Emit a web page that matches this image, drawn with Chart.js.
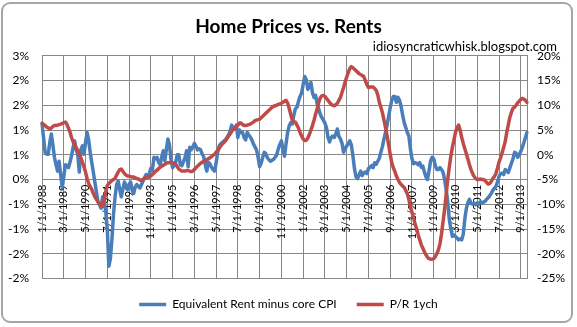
<!DOCTYPE html>
<html>
<head>
<meta charset="utf-8">
<title>Home Prices vs. Rents</title>
<script src="https://cdn.jsdelivr.net/npm/chart.js@4.4.1/dist/chart.umd.min.js"></script>
<style>
  html, body { margin: 0; padding: 0; background: #fff; }
  #wrap { position: relative; width: 577px; height: 327px; }
  /* cadre arrondi façon Excel */
  #frame { position: absolute; left: 1px; top: 2px; width: 568px; height: 317px;
           border: 2px solid #a6a6a6; border-radius: 9px; pointer-events: none; }
</style>
</head>
<body>
<div id="wrap">
  <canvas id="chart"></canvas>
  <div id="frame"></div>
</div>
<script>
/* données mensuelles : janvier 1988 -> janvier 2014 */
const startYear = 1988;

// Equivalent Rent minus core CPI (axe gauche, en %)
const rentMinusCpi = [
  1.12, 0.85, 0.55, 0.51, 0.51, 0.75, 0.92, 0.70, 0.45, 0.30, 0.17, 0.37,
  0.10, -0.16, 0.05, 0.30, 0.28, 0.24, 0.35, 0.48, 0.65, 0.78, 0.60, 0.51,
  0.15, 0.60, 0.68, 0.51, 0.75, 0.95, 0.80, 0.55, 0.35, 0.15, -0.05, -0.25,
  -0.45, -0.51, -0.58, -0.35, -0.45, -0.65, -1.00, -1.75, -1.60, -1.20, -0.70, -0.35,
  -0.10, -0.03, -0.20, -0.35, -0.20, -0.05, -0.12, -0.20, -0.10, -0.05, -0.22, -0.28,
  -0.15, -0.10, -0.14, -0.17, -0.10, -0.03, 0.04, 0.10, 0.04, 0.12, 0.22, 0.18,
  0.45, 0.42, 0.45, 0.35, 0.30, 0.45, 0.58, 0.38, 0.60, 0.82, 0.70, 0.40,
  0.24, 0.28, 0.35, 0.50, 0.50, 0.30, 0.28, 0.36, 0.44, 0.58, 0.26, 0.65,
  0.60, 0.66, 0.73, 0.68, 0.60, 0.62, 0.60, 0.52, 0.46, 0.30, 0.17, 0.35,
  0.32, 0.25, 0.20, 0.17, 0.33, 0.55, 0.68, 0.72, 0.75, 0.78, 0.80, 0.85,
  0.90, 0.97, 1.10, 1.02, 1.02, 1.10, 0.85, 1.00, 0.95, 0.95, 0.85, 0.80,
  0.95, 0.90, 0.86, 0.80, 0.72, 0.66, 0.60, 0.45, 0.26, 0.33, 0.45, 0.55,
  0.52, 0.44, 0.40, 0.37, 0.39, 0.41, 0.45, 0.50, 0.62, 0.71, 0.78, 0.62,
  0.47, 0.72, 0.95, 1.08, 1.15, 1.12, 1.30, 1.43, 1.46, 1.58, 1.68, 1.75,
  1.92, 2.08, 2.02, 1.82, 1.90, 1.96, 1.75, 1.66, 1.70, 1.53, 1.43, 1.32,
  1.25, 1.20, 1.14, 1.05, 0.85, 0.76, 0.85, 0.88, 0.85, 0.92, 1.02, 0.87,
  0.82, 0.73, 0.55, 0.62, 0.68, 0.72, 0.78, 0.70, 0.48, 0.22, 0.05, 0.02,
  0.10, 0.17, 0.08, 0.13, 0.15, 0.12, 0.22, 0.25, 0.28, 0.24, 0.34, 0.31,
  0.37, 0.43, 0.55, 0.67, 0.82, 0.95, 1.10, 1.28, 1.45, 1.60, 1.68, 1.68,
  1.56, 1.66, 1.60, 1.48, 1.30, 1.15, 1.05, 0.95, 0.88, 0.62, 0.42, 0.32,
  0.34, 0.33, 0.30, 0.34, 0.25, 0.27, 0.15, 0.05, 0.00, 0.18, 0.38, 0.45,
  0.42, 0.28, 0.20, 0.20, 0.24, 0.20, 0.15, 0.00, -0.20, -0.45, -0.80, -1.00,
  -1.15, -1.12, -1.15, -1.18, -1.22, -1.20, -1.22, -1.10, -0.80, -0.58, -0.47, -0.40,
  -0.48, -0.50, -0.48, -0.51, -0.47, -0.50, -0.45, -0.47, -0.46, -0.44, -0.40, -0.37,
  -0.33, -0.28, -0.22, -0.18, -0.14, -0.05, 0.06, 0.12, 0.13, 0.10, 0.20, 0.17,
  0.14, 0.24, 0.33, 0.42, 0.55, 0.53, 0.45, 0.50, 0.57, 0.65, 0.75, 0.85,
  0.95
];

// P/R 1ych (axe droit, en %)
const priceRent = [
  6.4, 6.1, 5.9, 5.6, 5.4, 5.2, 5.4, 5.7, 5.9, 5.9, 6.0, 6.1,
  6.2, 6.3, 6.5, 6.6, 6.2, 5.4, 4.6, 3.5, 2.6, 2.0, 1.4, 0.8,
  0.1, -0.6, -1.5, -2.4, -3.5, -4.8, -5.8, -6.4, -7.0, -7.8, -8.5, -9.0,
  -9.5, -9.8, -10.2, -10.4, -9.2, -7.5, -6.2, -5.8, -5.5, -5.2, -5.0, -4.8,
  -4.1, -3.5, -3.0, -2.9, -3.3, -3.8, -4.1, -4.3, -4.3, -4.4, -4.5, -4.5,
  -4.7, -4.8, -4.9, -5.1, -5.2, -5.0, -4.8, -4.6, -4.5, -4.5, -4.3, -4.0,
  -3.7, -3.4, -3.1, -2.8, -2.5, -2.3, -2.1, -1.9, -1.7, -1.6, -1.6, -1.5,
  -1.6, -1.7, -1.9, -2.4, -2.9, -3.1, -3.3, -3.3, -3.3, -3.2, -3.2, -3.3,
  -3.4, -3.3, -3.0, -2.6, -2.3, -2.0, -1.7, -1.5, -1.3, -1.2, -1.0, -0.8,
  -0.6, -0.4, -0.1, 0.1, 0.5, 0.9, 1.3, 1.8, 2.2, 2.5, 2.8, 3.3,
  3.8, 4.2, 4.7, 5.1, 5.4, 5.7, 6.0, 6.4, 6.4, 6.1, 5.9, 5.9,
  6.0, 6.1, 6.2, 6.4, 6.6, 6.9, 7.0, 7.1, 7.2, 7.5, 7.8, 8.1,
  8.4, 8.7, 9.0, 9.3, 9.6, 9.8, 9.9, 10.0, 10.2, 10.3, 10.4, 10.6,
  10.8, 11.0, 10.5, 9.4, 8.2, 7.0, 6.7, 6.6, 6.0, 5.4, 4.5, 3.8,
  3.2, 2.9, 2.9, 3.4, 4.1, 5.0, 5.9, 7.0, 8.2, 9.3, 10.5, 11.5,
  11.9, 12.0, 11.8, 11.4, 11.0, 10.6, 10.2, 10.0, 9.9, 10.1, 10.4, 11.0,
  11.6, 12.6, 13.6, 14.7, 15.7, 16.6, 17.4, 17.8, 17.6, 17.3, 17.0, 16.7,
  16.4, 16.2, 16.0, 15.8, 15.0, 14.2, 13.6, 13.7, 13.7, 13.7, 13.4, 13.0,
  12.1, 10.6, 9.6, 8.5, 7.0, 5.5, 3.9, 2.0, 0.1, -1.6, -2.6, -3.4,
  -4.3, -5.0, -5.6, -6.0, -6.3, -6.6, -7.2, -7.9, -9.0, -10.5, -11.6, -12.7,
  -14.0, -14.9, -16.2, -17.2, -18.2, -18.9, -19.6, -20.2, -20.7, -21.0, -21.1, -21.1,
  -21.0, -20.6, -20.0, -19.2, -18.0, -16.0, -13.5, -11.0, -8.0, -5.0, -2.5, -0.3,
  1.5, 3.0, 4.5, 5.5, 6.0, 5.0, 3.5, 2.3, 1.2, 0.2, -0.9, -2.0,
  -3.0, -3.8, -4.4, -4.8, -5.0, -5.0, -4.9, -5.0, -5.0, -5.2, -5.6, -5.9,
  -5.8, -5.4, -4.8, -4.4, -3.8, -2.7, -1.5, -0.6, 0.4, 1.5, 2.7, 4.6,
  6.1, 7.6, 8.6, 9.4, 9.6, 10.0, 10.5, 10.8, 11.2, 11.4, 11.2, 11.0,
  10.6
];

// catégories : une par mois, au format de la feuille (M/1/AAAA)
const months = rentMinusCpi.map((_, i) => `${i % 12 + 1}/1/${startYear + Math.floor(i / 12)}`);

// étiquettes affichées sur l'axe des dates (une tous les 14 mois)
const dateTicks = [
  "1/1/1988", "3/1/1989", "5/1/1990", "7/1/1991", "9/1/1992", "11/1/1993",
  "1/1/1995", "3/1/1996", "5/1/1997", "7/1/1998", "9/1/1999", "11/1/2000",
  "1/1/2002", "3/1/2003", "5/1/2004", "7/1/2005", "9/1/2006", "11/1/2007",
  "1/1/2009", "3/1/2010", "5/1/2011", "7/1/2012", "9/1/2013"
];

// graduations des deux axes verticaux
const leftTickValues = [2.5, 2, 1.5, 1, 0.5, 0, -0.5, -1, -1.5, -2];
const leftTickLabels = ["3%", "2%", "2%", "1%", "1%", "0%", "-1%", "-1%", "-2%", "-2%"];
const rightTickValues = [20, 15, 10, 5, 0, -5, -10, -15, -20, -25];
const rightTickLabels = ["20%", "15%", "10%", "5%", "0%", "-5%", "-10%", "-15%", "-20%", "-25%"];

const titleText = "Home Prices vs. Rents";
const subtitleText = "idiosyncraticwhisk.blogspot.com";
const gridColor = "#878787";

function pickLabel(values, labels, v) {
  const k = values.findIndex(t => Math.abs(t - v) < 1e-6);
  return k >= 0 ? labels[k] : "";
}

// le sous-titre s'arrête ~20px avant le bord droit, comme dans Excel
const subtitleInset = {
  id: "subtitleInset",
  afterLayout(chart) {
    chart.boxes.forEach(b => {
      if (b.options && b.options.text === subtitleText) {
        b.right -= 20;
        b.width -= 20;
      }
    });
  }
};

Chart.defaults.font.family = "Lato, 'Liberation Sans', sans-serif";
Chart.defaults.color = "#000";

new Chart(document.getElementById("chart"), {
  type: "line",
  data: {
    labels: months,
    datasets: [
      {
        label: "Equivalent Rent minus core CPI",
        data: rentMinusCpi,
        yAxisID: "y",
        borderColor: "#4A7EBB",
        backgroundColor: "#4A7EBB",
        borderWidth: 3.5,
        order: 2
      },
      {
        label: "P/R 1ych",
        data: priceRent,
        yAxisID: "y1",
        borderColor: "#BE4B48",
        backgroundColor: "#BE4B48",
        borderWidth: 3.5,
        order: 1
      }
    ]
  },
  plugins: [subtitleInset],
  options: {
    responsive: true,
    maintainAspectRatio: false,
    animation: false,
    layout: { padding: { left: 0, right: 0, top: 0, bottom: 6.5 } },
    elements: {
      point: { radius: 0 },
      line: { tension: 0, borderJoinStyle: "round", borderCapStyle: "round" }
    },
    plugins: {
      title: {
        display: true,
        text: titleText,
        font: { size: 19, weight: "bold" },
        color: "#000",
        padding: { top: 15, bottom: 0 }
      },
      subtitle: {
        display: true,
        text: subtitleText,
        align: "end",
        font: { size: 13 },
        color: "#000",
        padding: { top: 1, bottom: 1.4 }
      },
      legend: {
        position: "bottom",
        labels: {
          usePointStyle: true,
          pointStyle: "line",
          pointStyleWidth: 27,
          boxHeight: 12,
          padding: 20,
          font: { size: 12 },
          color: "#000",
          sort: (a, b) => a.datasetIndex - b.datasetIndex
        }
      },
      tooltip: { enabled: false }
    },
    scales: {
      x: {
        type: "category",
        position: { y: 0 },
        grid: {
          color: c => (c.index % 14 === 0 ? gridColor : "rgba(0,0,0,0)"),
          drawTicks: false
        },
        border: { display: true, color: gridColor },
        ticks: {
          autoSkip: false,
          minRotation: 90,
          maxRotation: 90,
          padding: 5,
          font: { size: 11 },
          callback: (v, i) => (dateTicks.includes(months[i]) ? months[i] : "")
        }
      },
      y: {
        position: "left",
        min: -2,
        max: 2.5,
        grid: { color: gridColor, drawTicks: false },
        border: { color: gridColor },
        ticks: {
          stepSize: 0.5,
          padding: 13,
          font: { size: 12 },
          callback: v => pickLabel(leftTickValues, leftTickLabels, v)
        },
        afterFit: s => { s.width = 42; }
      },
      y1: {
        position: "right",
        min: -25,
        max: 20,
        grid: { drawOnChartArea: false, drawTicks: false },
        border: { color: gridColor },
        ticks: {
          stepSize: 5,
          padding: 10,
          font: { size: 12 },
          callback: v => pickLabel(rightTickValues, rightTickLabels, v)
        },
        afterFit: s => { s.width = 50; }
      }
    }
  }
});
</script>
</body>
</html>
